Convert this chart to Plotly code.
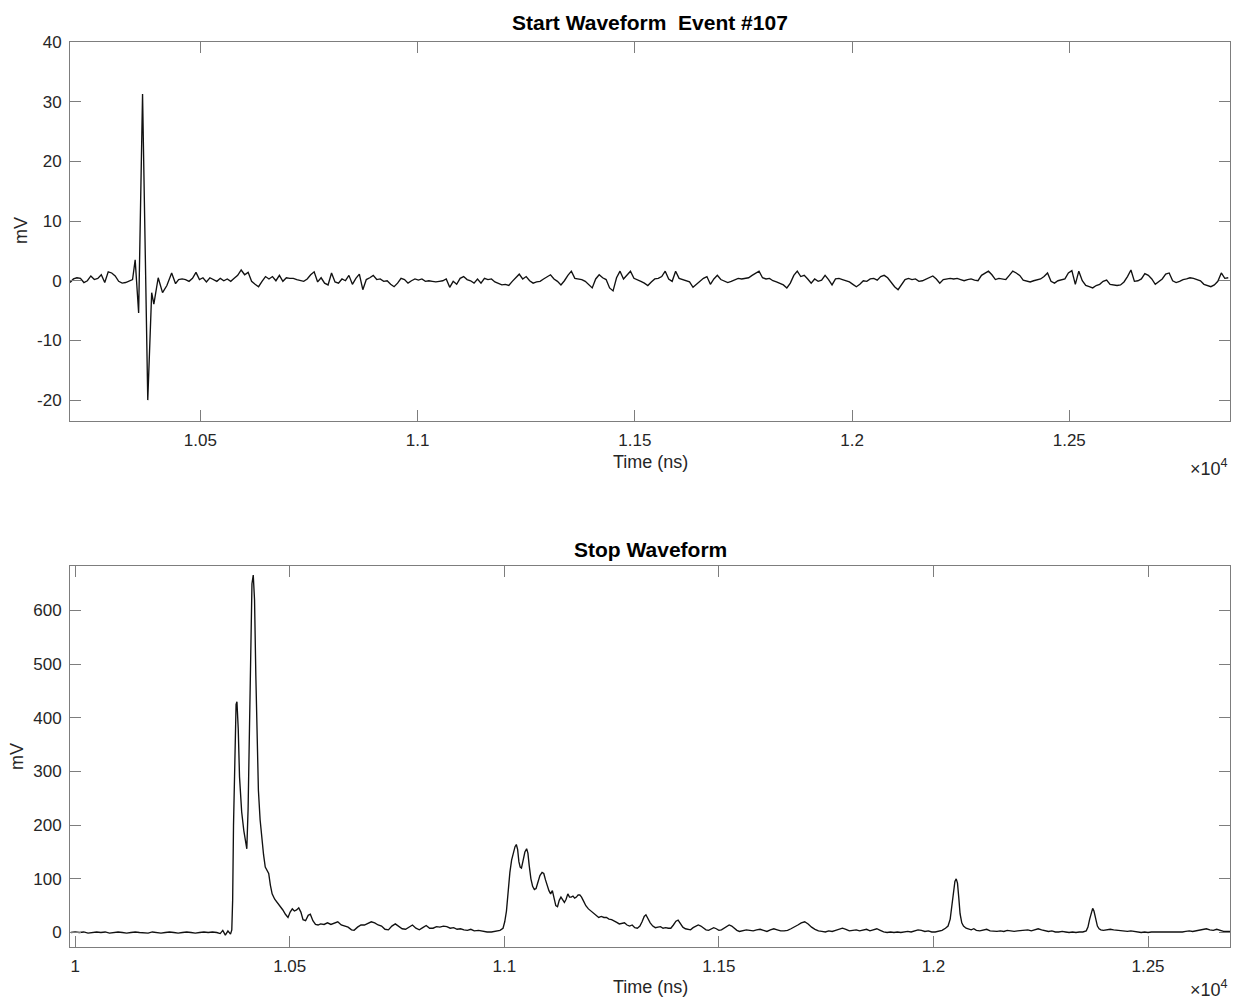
import plotly.graph_objects as go

# ---------------- Start channel (mV, sampled every 8 ns) ----------------
START_PRE_T0 = 10200      # ns, first sample before the pulse
START_POST_T0 = 10450     # ns, first sample after the pulse
START_DT = 8              # ns between samples

start_pre_mv = [-0.3, 0.3, 0.5, 0.4, -0.3, 0.0, 0.8, 0.2, 0.4, 1.0,
                -0.3, 1.5, 1.3, 0.8, -0.1, -0.4, -0.3, 0.0, 0.2]

start_pulse_t = [10350, 10358, 10367, 10379, 10388, 10393, 10403, 10413, 10423, 10434, 10443]
start_pulse_mv = [3.5, -5.4, 31.3, -20.0, -2.0, -3.9, 0.5, -2.0, -0.8, 1.3, -0.5]

start_post_mv = [
    0.2, 0.3, 0.2, -0.1, 0.4, 1.4, 0.2, 0.5, -0.2, 0.5, 0.2, -0.1, 0.4, 0.0, 0.3, -0.1, 0.4, 0.9, 1.8, 1.0,
    1.4, -0.1, -0.6, -1.0, -0.1, 0.7, 0.3, 0.7, 0.0, 0.9, -0.1, 0.5, 0.4, 0.4, 0.2, 0.0, -0.1, 0.3, 1.0, 1.5,
    -0.2, 0.5, -0.4, -0.7, 1.3, -0.2, -0.4, 0.3, 0.0, 0.9, -0.6, 0.4, 1.1, -1.5, 0.2, 0.5, 0.9, 0.2, 0.3, -0.1,
    0.0, -0.6, -1.0, -0.4, 0.4, 0.2, -0.4, 0.0, 0.3, 0.1, 0.3, -0.1, 0.0, -0.1, -0.2, -0.1, 0.0, 0.3, -1.1, -0.1,
    -0.6, 0.4, 0.7, 0.2, 0.0, -0.4, 0.3, -0.4, 0.4, 0.2, 0.3, -0.2, -0.4, -0.7, -0.6, -0.8, -0.1, 0.5, 1.1, 0.3,
    0.7, 0.0, -0.4, -0.2, -0.1, 0.3, 0.7, 1.0, 0.3, -0.1, -0.7, 0.0, 0.9, 1.6, 0.4, 0.3, 0.2, -0.1, -0.6, -1.2,
    0.3, 1.0, 0.5, 0.2, -1.2, -1.7, 0.5, 1.6, 0.3, 0.9, 1.6, 0.4, 0.2, -0.1, -0.4, -0.8, -0.2, 0.3, 0.4, 0.7,
    1.6, 0.3, -0.1, 1.6, 0.4, 0.2, 0.0, -0.2, -1.1, -0.6, -0.1, 0.4, 0.7, -0.6, 0.3, 0.9, 0.2, -0.1, -0.3, -0.1,
    0.2, 0.4, 0.3, 0.4, 0.5, 0.9, 1.2, 1.6, 0.5, 0.3, 0.4, 0.0, -0.2, -0.4, -0.7, -1.2, -0.4, 0.9, 1.6, 0.7,
    0.9, 0.3, -0.4, 0.3, -0.1, 0.1, 0.9, 0.2, -0.7, 0.3, 0.4, 0.2, 0.0, -0.2, -0.6, -1.0, -0.6, 0.0, -0.1, 0.3,
    0.4, 0.1, 0.7, 0.9, 0.5, -0.2, -1.0, -1.5, -0.7, 0.2, 0.4, 0.2, 0.3, -0.1, 0.0, 0.3, 0.5, 0.8, 0.3, -0.4,
    0.2, 0.3, 0.4, 0.3, 0.4, 0.2, 0.0, 0.2, 0.3, 0.1, 0.0, 0.9, 1.3, 1.6, 1.0, 0.2, 0.4, 0.3, 0.2, 0.9,
    1.6, 1.3, 0.9, 0.1, -0.1, -0.2, 0.0, 0.2, 0.3, 0.7, 1.3, -0.1, -0.4, 0.0, 0.2, 0.3, 1.3, 1.7, -0.6, 1.6,
    0.0, -0.8, -1.0, -1.2, -0.8, -0.6, -0.1, 0.1, -0.6, -0.7, -0.8, -0.7, -0.2, 0.7, 1.8, -0.1, 0.0, 0.3, 1.2, 0.9,
    0.3, -0.6, -0.1, 0.3, 1.1, 1.3, 0.0, -0.3, -0.1, 0.2, 0.3, 0.5, 0.4, 0.2, 0.0, -0.6, -0.8, -1.0, -0.7, -0.1,
    1.3, 0.4, 0.5,
]

# ---------------- Stop channel (time in ns, amplitude in mV) ----------------
stop_time_ns = [
    # quiet baseline
    9990, 10000, 10010, 10020, 10030, 10040, 10050, 10060, 10070, 10080,
    10090, 10100, 10110, 10120, 10130, 10140, 10150, 10160, 10170, 10180,
    10190, 10200, 10210, 10220, 10230, 10240, 10250, 10260, 10270, 10280,
    10290, 10300, 10310, 10320, 10330,
    # double main pulse
    10338, 10344, 10350, 10356, 10362, 10365, 10367, 10369, 10372, 10375,
    10377, 10380, 10383, 10388, 10393, 10397, 10400, 10403, 10406, 10409,
    10412, 10415, 10418, 10421, 10424, 10427, 10431, 10435, 10439, 10443,
    10447, 10451, 10455, 10459, 10465, 10472, 10478, 10484, 10490, 10496,
    # tail
    10501, 10506, 10511, 10516, 10521, 10526, 10531, 10537, 10543, 10548,
    10554, 10560, 10566, 10572, 10580, 10588, 10596, 10604, 10612, 10620,
    10628, 10636, 10644, 10650, 10658, 10666, 10674, 10682, 10690, 10698,
    10706, 10714, 10722, 10730, 10738, 10746, 10754, 10762, 10770, 10778,
    10786, 10794, 10802, 10810, 10818, 10826, 10834, 10842, 10850, 10858,
    10866, 10874, 10882, 10890, 10898, 10906, 10914, 10922, 10930, 10940,
    10950, 10960, 10970, 10980, 10990, 10997,
    # second burst
    11001, 11005, 11009, 11013, 11017, 11021, 11025, 11028, 11031, 11034,
    11037, 11040, 11044, 11048, 11052, 11055, 11058, 11062, 11066,
    11070, 11074, 11078, 11083, 11088, 11092, 11096, 11100, 11104, 11108,
    11112, 11116, 11120, 11124, 11128, 11132, 11136, 11140, 11144, 11148,
    11152, 11156, 11160, 11164, 11168, 11172, 11176, 11180, 11185, 11190,
    11196,
    # decay of the burst
    11202, 11208, 11214, 11220, 11226, 11232, 11238, 11244, 11250, 11256,
    11262, 11268, 11274, 11280, 11286, 11292, 11298, 11304, 11310, 11316,
    11321, 11326, 11330, 11334, 11340, 11346, 11352, 11358, 11364, 11370,
    11376, 11382, 11388, 11394, 11400, 11405, 11410, 11416, 11422, 11428,
    11434, 11440, 11446, 11452, 11458, 11464, 11470, 11476, 11482, 11488,
    11494, 11500, 11506, 11512, 11518, 11524, 11530, 11536, 11542, 11548,
    # late baseline
    11556, 11564, 11572, 11580, 11588, 11596, 11604, 11612, 11620, 11628,
    11636, 11644, 11652, 11660, 11668, 11676, 11684, 11692, 11700, 11708,
    11716, 11724, 11732, 11740, 11748, 11756, 11764, 11772, 11780, 11788,
    11796, 11804, 11812, 11820, 11828, 11836, 11844, 11852, 11860, 11868,
    11876, 11884, 11892, 11900, 11908, 11916, 11924, 11932, 11940, 11948,
    11956, 11964, 11972, 11980, 11988, 11996, 12004, 12012, 12020, 12028,
    # single photon peak near 1.205e4
    12034, 12039, 12043, 12047, 12050, 12053, 12056, 12059, 12062, 12066,
    12070, 12076, 12082, 12088, 12094, 12100,
    12108, 12116, 12124, 12132, 12140, 12148, 12156, 12164, 12172, 12180,
    12188, 12196, 12204, 12212, 12220, 12228, 12236, 12244, 12252, 12260,
    12268, 12276, 12284, 12292, 12300, 12308, 12316, 12324, 12332, 12340,
    12348,
    # small peak near 1.237e4
    12356, 12360, 12364, 12368, 12371, 12374, 12378, 12382, 12386, 12390,
    12396,
    12404, 12412, 12420, 12428, 12436, 12444, 12452, 12460, 12468, 12476,
    12484, 12492, 12500, 12508, 12516, 12524, 12532, 12540, 12548, 12556,
    12564, 12572, 12580, 12588, 12596, 12604, 12612, 12620, 12628, 12636,
    12644, 12652, 12660, 12668, 12676, 12684, 12692,
]

stop_mv = [
    0, 1, 0, 1, -1, 0, 1, 0, 1, -1,
    0, 1, 0, -1, 0, 1, 0, 0, -1, 1,
    0, -1, 0, 1, 0, -1, 0, 1, 0, -1,
    0, 1, 0, 1, 0,
    -2, 4, -5, 3, -3, 5, 60, 200, 350, 425,
    430, 380, 290, 225, 190, 168, 156, 230, 400, 560,
    650, 666, 620, 480, 350, 265, 210, 175, 145, 122,
    115, 110, 88, 72, 62, 55, 48, 42, 34, 28,
    38, 44, 40, 42, 46, 38, 24, 22, 32, 34,
    22, 15, 14, 16, 15, 18, 15, 18, 20, 14,
    12, 10, 5, 4, 10, 14, 14, 17, 20, 18,
    14, 12, 6, 5, 12, 16, 12, 7, 6, 10,
    14, 8, 5, 9, 13, 8, 8, 11, 10, 12,
    11, 8, 9, 6, 7, 5, 4, 6, 3, 4,
    2, 1, 1, 2, 4, 8,
    20, 40, 80, 112, 135, 150, 160, 164, 155, 132,
    122, 120, 138, 150, 156, 148, 125, 100, 86,
    80, 82, 92, 106, 112, 110, 98, 86, 78, 72,
    78, 64, 50, 48, 60, 66, 60, 56, 62, 72,
    66, 66, 68, 64, 66, 70, 70, 66, 58, 50,
    44,
    40, 36, 32, 28, 30, 28, 28, 25, 24, 22,
    19, 16, 17, 18, 14, 12, 14, 9, 8, 12,
    20, 30, 33, 26, 18, 12, 9, 10, 11, 8,
    9, 8, 8, 14, 21, 23, 18, 10, 7, 6,
    5, 9, 11, 14, 12, 8, 5, 4, 6, 9,
    7, 4, 5, 8, 12, 14, 12, 8, 4, 2,
    3, 5, 4, 3, 5, 6, 4, 2, 5, 7,
    5, 3, 3, 4, 7, 10, 14, 18, 20, 16,
    10, 6, 3, 2, 1, 3, 2, 4, 6, 8,
    6, 3, 4, 5, 3, 5, 6, 3, 5, 7,
    4, 1, 0, 1, 0, 1, 0, 1, 2, 1,
    3, 5, 4, 2, 3, 1, 1, 2, 4, 8,
    12, 25, 50, 78, 95, 100, 92, 65, 35, 18,
    12, 8, 6, 5, 7, 4,
    3, 5, 6, 3, 2, 2, 3, 2, 4, 3,
    2, 3, 4, 5, 5, 3, 5, 7, 5, 3,
    2, 3, 1, 1, 2, 1, 0, 1, 0, 1,
    1,
    3, 10, 25, 40, 45, 40, 25, 12, 7, 5,
    4,
    5, 6, 5, 4, 3, 2, 2, 3, 2, 1,
    0, 1, 0, 1, 1, 0, 1, 0, 1, 0,
    1, 0, 1, 2, 3, 2, 3, 4, 6, 7,
    5, 4, 6, 4, 2, 2, 2,
]
assert len(stop_time_ns) == len(stop_mv)

# ---------------- Tick definitions ----------------
start_xtick_vals = [10500, 11000, 11500, 12000, 12500]
start_xtick_text = ["1.05", "1.1", "1.15", "1.2", "1.25"]
start_ytick_vals = [-20, -10, 0, 10, 20, 30, 40]
start_ytick_text = ["-20", "-10", "0", "10", "20", "30", "40"]

stop_xtick_vals = [10000, 10500, 11000, 11500, 12000, 12500]
stop_xtick_text = ["1", "1.05", "1.1", "1.15", "1.2", "1.25"]
stop_ytick_vals = [0, 100, 200, 300, 400, 500, 600]
stop_ytick_text = ["0", "100", "200", "300", "400", "500", "600"]

# ---------------- Assemble the start trace ----------------
start_t = ([START_PRE_T0 + START_DT * i for i in range(len(start_pre_mv))]
           + start_pulse_t
           + [START_POST_T0 + START_DT * i for i in range(len(start_post_mv))])
start_mv = start_pre_mv + start_pulse_mv + start_post_mv

# ---------------- Figure ----------------
W, H = 1238, 1003
M_L, M_R, M_T, M_B = 70, 8, 42, 56
PLOT_W = W - M_L - M_R
PLOT_H = H - M_T - M_B


def py(pix):
    """Pixel row -> paper y."""
    return (H - M_B - pix) / PLOT_H


def px(pix):
    """Pixel column -> paper x."""
    return (pix - M_L) / PLOT_W


FONT = "Liberation Sans, Arial, Helvetica, sans-serif"
AXIS_GREY = "#7d7d7d"
TEXT_DARK = "#262626"
TICK_SIZE = 17
LABEL_SIZE = 18
TITLE_SIZE = 21

fig = go.Figure()
fig.add_trace(go.Scatter(x=start_t, y=start_mv, mode="lines",
                         line=dict(color="#111111", width=1.35),
                         xaxis="x", yaxis="y", showlegend=False, hoverinfo="skip"))
fig.add_trace(go.Scatter(x=stop_time_ns, y=stop_mv, mode="lines",
                         line=dict(color="#111111", width=1.35),
                         xaxis="x2", yaxis="y2", showlegend=False, hoverinfo="skip"))

axis_style = dict(showline=True, linecolor=AXIS_GREY, linewidth=1, mirror="ticks",
                  ticks="inside", ticklen=11, tickwidth=1, tickcolor=AXIS_GREY,
                  showgrid=False, zeroline=False,
                  tickfont=dict(family=FONT, size=TICK_SIZE, color=TEXT_DARK))

fig.update_layout(
    width=W, height=H,
    margin=dict(l=M_L, r=M_R, t=M_T, b=M_B),
    paper_bgcolor="white", plot_bgcolor="white",
    xaxis=dict(domain=[0, 1], anchor="y", range=[10200, 12870],
               tickmode="array", tickvals=start_xtick_vals, ticktext=start_xtick_text,
               ticklabelstandoff=4, **axis_style),
    yaxis=dict(domain=[py(421), 1], anchor="x", range=[-23.5, 40],
               tickmode="array", tickvals=start_ytick_vals, ticktext=start_ytick_text,
               ticklabelstandoff=4, **axis_style),
    xaxis2=dict(domain=[0, 1], anchor="y2", range=[9988, 12691],
                tickmode="array", tickvals=stop_xtick_vals, ticktext=stop_xtick_text,
                ticklabelstandoff=4, **axis_style),
    yaxis2=dict(domain=[0, py(566)], anchor="x2", range=[-27, 683],
                tickmode="array", tickvals=stop_ytick_vals, ticktext=stop_ytick_text,
                ticklabelstandoff=4, **axis_style),
)

ann = []
# Titles
ann.append(dict(text="<b>Start Waveform \u00a0Event #107</b>", x=px(650), y=py(22),
                font=dict(family=FONT, size=TITLE_SIZE, color="black")))
ann.append(dict(text="<b>Stop Waveform</b>", x=px(650), y=py(549),
                font=dict(family=FONT, size=TITLE_SIZE, color="black")))
# Axis labels
for yy in (462, 987):
    ann.append(dict(text="Time (ns)", x=px(650), y=py(yy),
                    font=dict(family=FONT, size=LABEL_SIZE, color=TEXT_DARK)))
for xx, yy in ((21, 231), (17, 757)):
    ann.append(dict(text="mV", x=px(xx), y=py(yy), textangle=-90,
                    font=dict(family=FONT, size=LABEL_SIZE, color=TEXT_DARK)))
# Exponent markers
for yy in (467, 989):
    ann.append(dict(text="\u00d710<sup>4</sup>", x=px(1230), y=py(yy), xanchor="right",
                    font=dict(family=FONT, size=18, color=TEXT_DARK)))

for a in ann:
    a.setdefault("xanchor", "center")
    a.update(xref="paper", yref="paper", yanchor="middle", showarrow=False)
fig.update_layout(annotations=ann)

fig.write_html("out.html")
